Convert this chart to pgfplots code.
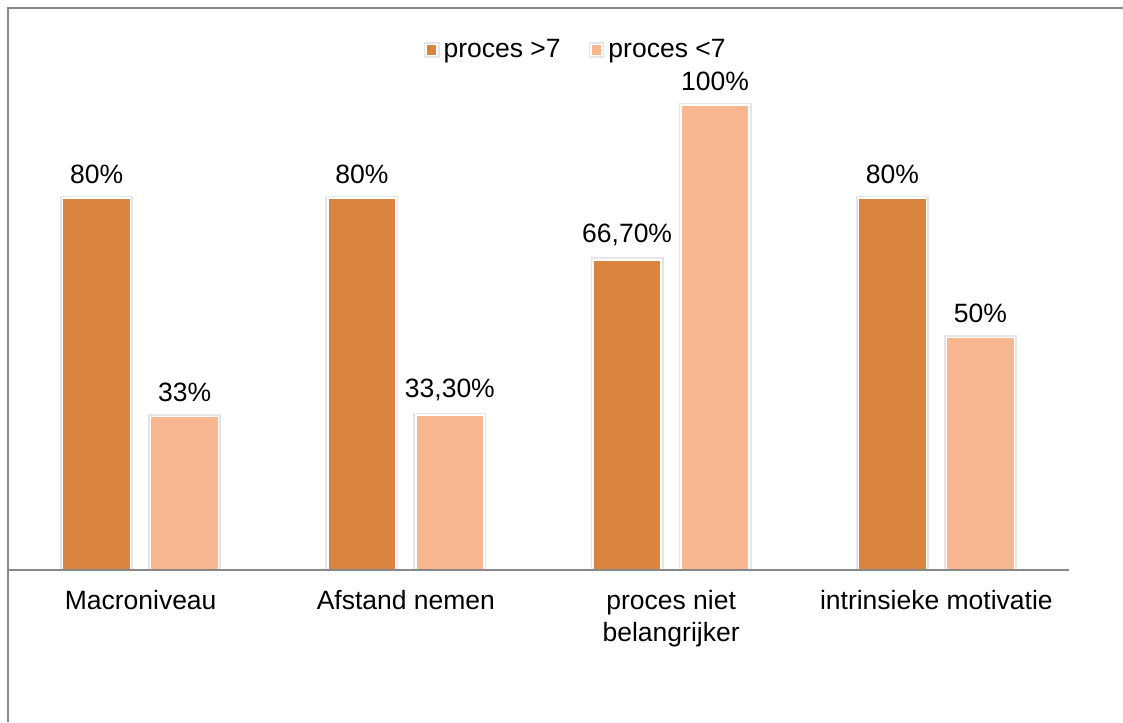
\documentclass[border=0pt]{standalone}
\usepackage{pgfplots}
\pgfplotsset{compat=1.18}
\usepackage{fontspec}
\setmainfont{Liberation Sans}
\definecolor{darkor}{RGB}{217,132,63}
\definecolor{lightor}{RGB}{248,182,145}
\definecolor{framegray}{RGB}{136,136,136}
\begin{document}
\begin{tikzpicture}
\useasboundingbox (0,0) rectangle (561.5pt,361pt);
\draw[framegray, line width=1pt] (4pt,0) -- (4pt,357pt) -- (561.5pt,357pt);
\begin{axis}[
  at={(4pt,76pt)}, anchor=south west,
  scale only axis, width=530.5pt, height=255.75pt,
  xmin=-0.5, xmax=3.5, ymin=0, ymax=110,
  axis y line=none,
  axis x line*=bottom,
  axis on top,
  x axis line style={framegray, line width=0.75pt},
  xtick={0,1,2,3},
  xticklabels={Macroniveau, Afstand nemen, {proces niet\\belangrijker}, intrinsieke motivatie},
  major tick length=0pt,
  xticklabel style={align=center, font=\fontsize{13.25}{16}\selectfont, yshift=-6.5pt},
  ybar, bar width=34pt,
  point meta=explicit symbolic,
  nodes near coords,
  nodes near coords style={font=\fontsize{13.25}{16}\selectfont, yshift=3.5pt},
  legend columns=2,
  legend style={draw=none, at={(0.536,1.017)}, anchor=center, font=\fontsize{13.25}{16}\selectfont,
    /tikz/every even column/.append style={column sep=12pt}},
  legend image code/.code={\fill[#1] (0pt,-2.75pt) rectangle (5.5pt,2.75pt);},
]
\addplot[fill=darkor, draw=white, line width=0.75pt, bar shift=-22pt,
  preaction={draw=black!10, line width=2.4pt}] coordinates {
  (0,80) [80\%]
  (1,80) [80\%]
  (2,66.7) [66,70\%]
  (3,80) [80\%]
};
\addlegendentry{proces >7}
\addplot[fill=lightor, draw=white, line width=0.75pt, bar shift=22pt,
  preaction={draw=black!10, line width=2.4pt}] coordinates {
  (0,33) [33\%]
  (1,33.3) [33,30\%]
  (2,100) [100\%]
  (3,50) [50\%]
};
\addlegendentry{proces <7}
\end{axis}
\end{tikzpicture}
\end{document}
